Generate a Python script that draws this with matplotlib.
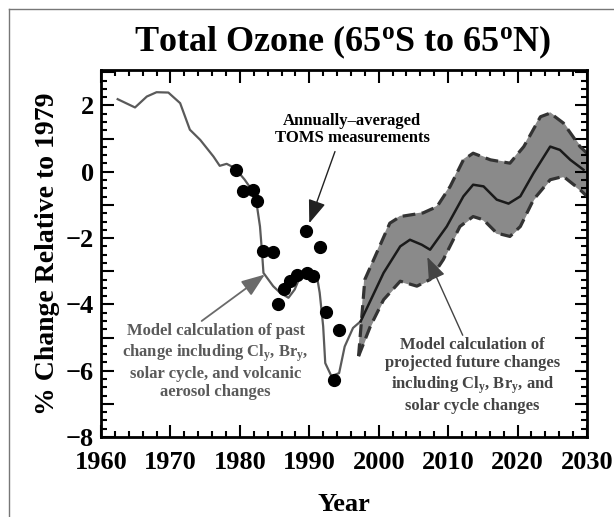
import matplotlib
matplotlib.use("Agg")
import matplotlib.pyplot as plt
from matplotlib.ticker import MultipleLocator, FuncFormatter
from matplotlib.lines import Line2D

plt.rcParams['font.family'] = 'Liberation Serif'
plt.rcParams['font.weight'] = 'bold'
plt.rcParams['mathtext.fontset'] = 'custom'
plt.rcParams['mathtext.rm'] = 'Liberation Serif:bold'
plt.rcParams['mathtext.bf'] = 'Liberation Serif:bold'
plt.rcParams['mathtext.it'] = 'Liberation Serif:bold'

# modelo pasado (linea gris)
past_years = [1962.4, 1964.9, 1966.6, 1968.0, 1969.7, 1971.4, 1972.8, 1974.3, 1976.2,
              1977.1, 1978.1, 1979.3, 1980.7, 1981.7, 1982.4, 1982.9, 1983.2, 1983.4,
              1984.8, 1985.8, 1987.0, 1987.9, 1988.7, 1989.6, 1991.1, 1991.5, 1992.0,
              1992.3, 1993.2, 1994.3, 1995.1, 1996.3, 1997.4]
past_vals = [2.19, 1.94, 2.27, 2.40, 2.39, 2.07, 1.27, 0.96, 0.46,
             0.18, 0.24, 0.11, -0.24, -0.54, -0.94, -1.65, -2.45, -3.05,
             -3.45, -3.65, -3.80, -3.55, -3.15, -3.05, -3.15, -3.65, -4.66,
             -5.77, -6.17, -6.07, -5.27, -4.71, -4.51]

# modelo futuro (linea negra)
fut_years = [1997.4, 2000.7, 2003.1, 2004.5, 2006.2, 2007.4, 2009.8, 2012.2, 2013.6,
             2015.1, 2017.0, 2018.7, 2020.4, 2022.3, 2024.7, 2026.1, 2027.6, 2029.5]
fut_vals = [-4.51, -3.05, -2.25, -2.05, -2.20, -2.35, -1.65, -0.74, -0.39,
            -0.44, -0.84, -0.96, -0.74, -0.04, 0.76, 0.66, 0.36, 0.06]

# banda de incertidumbre
up_years = [1997.1, 1998.0, 1999.7, 2001.6, 2003.1, 2006.4, 2008.4, 2010.3, 2012.2,
            2013.6, 2016.1, 2018.9, 2020.9, 2023.3, 2024.7, 2026.6, 2029.0, 2030.0]
up_vals = [-5.56, -3.25, -2.45, -1.55, -1.35, -1.24, -1.05, -0.44, 0.36,
           0.56, 0.36, 0.26, 0.76, 1.66, 1.77, 1.47, 0.76, 0.56]
lo_years = [1997.1, 1998.8, 2000.7, 2003.1, 2005.5, 2007.4, 2009.3, 2011.7, 2013.6,
            2015.1, 2017.0, 2018.9, 2020.4, 2022.3, 2024.7, 2026.6, 2029.0, 2030.0]
lo_vals = [-5.56, -4.66, -3.86, -3.30, -3.45, -3.25, -2.65, -1.65, -1.35,
           -1.45, -1.85, -1.95, -1.65, -0.84, -0.24, -0.14, -0.54, -0.74]

# medidas TOMS
toms_years = [1979.5, 1980.5, 1981.9, 1982.5, 1983.4, 1984.8, 1985.5, 1986.3, 1987.2,
              1988.2, 1989.6, 1990.6, 1989.5, 1991.5, 1992.4, 1993.5, 1994.3]
toms_vals = [0.04, -0.59, -0.54, -0.87, -2.40, -2.43, -3.98, -3.55, -3.30,
             -3.10, -3.05, -3.13, -1.80, -2.27, -4.24, -6.27, -4.76]

fig = plt.figure(figsize=(6.14, 5.17), dpi=100)
ax = fig.add_axes([0.1645, 0.1547, 0.7915, 0.7099])

band_x = up_years + lo_years[::-1]
band_y = up_vals + lo_vals[::-1]
ax.fill(band_x, band_y, color='#8a8a8a', zorder=1)
ax.plot(up_years, up_vals, color='#333333', lw=2.3, ls=(0, (4, 2)), zorder=2)
ax.plot(lo_years, lo_vals, color='#333333', lw=2.3, ls=(0, (4, 2)), zorder=2)

ax.plot(past_years, past_vals, color='#5a5a5a', lw=1.6, zorder=3)
ax.plot(fut_years, fut_vals, color='#1a1a1a', lw=1.8, zorder=3)
ax.plot(toms_years, toms_vals, 'o', color='black', ms=8.5, zorder=4)

ax.set_xlim(1960, 2030)
ax.set_ylim(-8, 3.07)
ax.xaxis.set_major_locator(MultipleLocator(10))
ax.xaxis.set_minor_locator(MultipleLocator(2))
ax.yaxis.set_major_locator(MultipleLocator(1))
ax.yaxis.set_minor_locator(MultipleLocator(0.25))
ax.yaxis.set_major_formatter(FuncFormatter(
    lambda v, p: ('\u2212%d' % abs(v) if v < 0 else '%d' % v) if int(round(v)) % 2 == 0 else ''))
ax.tick_params(which='both', direction='in', top=True, right=True, width=1.5,
               labelsize=19)
ax.tick_params(which='major', length=9)
ax.tick_params(which='minor', length=4.5)
ax.tick_params(axis='x', pad=10)
ax.tick_params(axis='y', pad=5)
for s in ax.spines.values():
    s.set_linewidth(2)

fig.text(0.5586, 0.918, 'Total Ozone (65$^{o}$S to 65$^{o}$N)', ha='center', va='center',
         fontsize=26, fontweight='bold')
ax.set_xlabel('Year', fontsize=19, fontweight='bold', labelpad=14)
ax.set_ylabel('% Change Relative to 1979', fontsize=20, fontweight='bold', labelpad=4)

arrow_kw = dict(arrowstyle='-|>,head_length=0.8,head_width=0.3', mutation_scale=18,
                shrinkA=0, shrinkB=0)

# TOMS
ax.text(1996.2, 1.27, 'Annually\u2013averaged\nTOMS measurements', ha='center',
        va='center', fontsize=12, fontweight='bold', linespacing=1.05)
ax.annotate('', xy=(1990.0, -1.55), xytext=(1993.7, 0.61),
            arrowprops=dict(color='#222222', lw=1, **arrow_kw))

# modelo pasado
ax.text(1976.5, -5.73, 'Model calculation of past\nchange including Cl$_y$, Br$_y$,\n'
        'solar cycle, and volcanic\naerosol changes', ha='center', va='center',
        fontsize=12, fontweight='bold', color='#5a5a5a', linespacing=1.2)
ax.annotate('', xy=(1983.6, -3.1), xytext=(1974.5, -4.5),
            arrowprops=dict(color='#6a6a6a', lw=1.3, **arrow_kw))

# modelo futuro
ax.text(2013.5, -6.15, 'Model calculation of\nprojected future changes\n'
        'including Cl$_y$, Br$_y$, and\nsolar cycle changes', ha='center', va='center',
        fontsize=12, fontweight='bold', color='#444444', linespacing=1.2)
ax.annotate('', xy=(2007.0, -2.57), xytext=(2012.1, -4.93),
            arrowprops=dict(color='#444444', lw=1, **arrow_kw))

# marco de la figura
fig.add_artist(Line2D([9 / 614, 9 / 614], [0, 1 - 9 / 517], color='#777777', lw=1,
                      transform=fig.transFigure))
fig.add_artist(Line2D([9 / 614, 1], [1 - 9 / 517, 1 - 9 / 517], color='#777777', lw=1,
                      transform=fig.transFigure))

fig.savefig('out.png', dpi=100)
